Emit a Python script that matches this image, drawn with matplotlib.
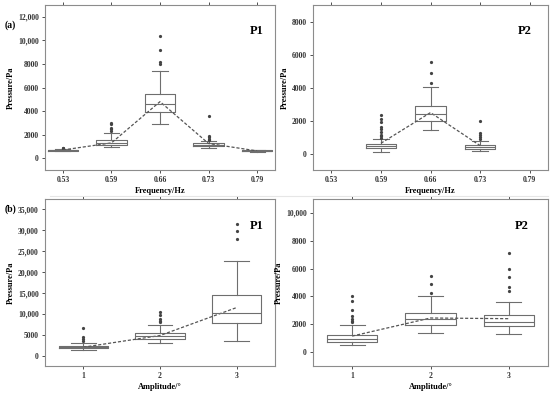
import matplotlib.pyplot as plt
from matplotlib.lines import Line2D

plt.rcParams["font.family"] = ["Liberation Serif", "DejaVu Serif"]
plt.rcParams["font.weight"] = "bold"

# (a) frequency panels
freq_labels = ["0.53", "0.59", "0.66", "0.73", "0.79"]

a1_whislo = [600, 950, 2900, 850, 520]
a1_q1 = [650, 1100, 3900, 1050, 570]
a1_med = [690, 1250, 4600, 1150, 620]
a1_q3 = [720, 1550, 5450, 1300, 680]
a1_whishi = [780, 2150, 7400, 1450, 720]
a1_mean = [700, 1300, 4800, 1250, 620]
a1_fliers = [[850, 900], [2300, 2450, 2600, 2900, 3000],
             [8000, 8200, 9200, 10400], [1550, 1650, 1800, 1900, 3600], []]

a2_pos = [2, 3, 4]
a2_whislo = [120, 1400, 180]
a2_q1 = [360, 1950, 300]
a2_med = [450, 2400, 400]
a2_q3 = [600, 2850, 500]
a2_whishi = [850, 4050, 780]
a2_mean = [620, 2480, 480]
a2_fliers = [[950, 1050, 1150, 1300, 1500, 1600, 1900, 2100, 2350],
             [4250, 4900, 5550], [900, 1000, 1100, 1250, 2000]]

# (b) amplitude panels
amp_labels = ["1", "2", "3"]

b1_whislo = [1300, 2900, 3400]
b1_q1 = [1700, 3900, 7800]
b1_med = [2000, 4600, 10100]
b1_q3 = [2200, 5400, 14500]
b1_whishi = [3100, 7400, 22600]
b1_mean = [2000, 4800, 11500]
b1_fliers = [[3500, 4000, 4500, 6500], [8000, 8300, 8800, 9700, 10500],
             [28000, 29800, 31500]]

b2_whislo = [480, 1400, 1300]
b2_q1 = [750, 1950, 1850]
b2_med = [950, 2350, 2150]
b2_q3 = [1250, 2800, 2650]
b2_whishi = [1950, 4050, 3600]
b2_mean = [1150, 2450, 2400]
b2_fliers = [[2150, 2200, 2400, 2600, 3000, 3700, 4050], [4250, 4900, 5500],
             [4400, 4700, 5400, 6000, 7100]]


def make_stats(whislo, q1, med, q3, whishi, fliers):
    return [
        dict(whislo=a, q1=b, med=c, q3=d, whishi=e, fliers=f)
        for a, b, c, d, e, f in zip(whislo, q1, med, q3, whishi, fliers)
    ]


def draw_panel(ax, positions, stats, means, xticks, xticklabels, ylim, yticks,
               yticklabels, xlabel, tag, tag_x, width):
    edge = "#6e6e6e"
    ax.bxp(
        stats,
        positions=positions,
        widths=width,
        showfliers=True,
        boxprops=dict(color=edge, linewidth=0.8),
        medianprops=dict(color=edge, linewidth=0.8),
        whiskerprops=dict(color=edge, linewidth=0.8),
        capprops=dict(color=edge, linewidth=0.8),
        capwidths=width * 0.5,
        flierprops=dict(marker="o", markersize=1.3, markerfacecolor="#444444",
                        markeredgecolor="#444444", linestyle="none"),
    )
    ax.plot(positions, means, linestyle=(0, (2.5, 1.5)), color="#555555",
            linewidth=0.9)
    ax.set_xticks(xticks)
    ax.set_xticklabels(xticklabels)
    ax.set_ylim(*ylim)
    ax.set_yticks(yticks)
    ax.set_yticklabels(yticklabels)
    ax.set_xlabel(xlabel, fontsize=6, fontweight="bold", labelpad=2)
    ax.set_ylabel("Pressure/Pa", fontsize=6, fontweight="bold", labelpad=2)
    ax.tick_params(labelsize=5.5, length=2, width=0.6, colors="#333333",
                   top=True, pad=2.5)
    for s in ax.spines.values():
        s.set_color("#8c8c8c")
        s.set_linewidth(0.8)
    ax.text(tag_x, 0.84, tag, transform=ax.transAxes, ha="center",
            va="center", fontsize=9, fontweight="bold")


W, H = 550, 394
fig = plt.figure(figsize=(W / 100, H / 100), dpi=100)


def add_ax(left, top, right, bottom):
    return fig.add_axes([left / W, 1 - bottom / H, (right - left) / W,
                         (bottom - top) / H])


ax1 = add_ax(45, 5, 275, 170)
ax2 = add_ax(313, 5, 548, 170)
ax3 = add_ax(45, 199, 275, 366)
ax4 = add_ax(313, 199, 548, 366)

draw_panel(ax1, [1, 2, 3, 4, 5],
           make_stats(a1_whislo, a1_q1, a1_med, a1_q3, a1_whishi, a1_fliers),
           a1_mean, [1, 2, 3, 4, 5], freq_labels, (-1000, 13000),
           [0, 2000, 4000, 6000, 8000, 10000, 12000],
           ["0", "2000", "4000", "6000", "8000", "10,000", "12,000"],
           "Frequency/Hz", "P1", 0.92, 0.62)
ax1.set_xlim(0.63, 5.37)

draw_panel(ax2, a2_pos,
           make_stats(a2_whislo, a2_q1, a2_med, a2_q3, a2_whishi, a2_fliers),
           a2_mean, [1, 2, 3, 4, 5], freq_labels, (-1000, 9000),
           [0, 2000, 4000, 6000, 8000],
           ["0", "2000", "4000", "6000", "8000"],
           "Frequency/Hz", "P2", 0.90, 0.62)
ax2.set_xlim(0.63, 5.37)

draw_panel(ax3, [1, 2, 3],
           make_stats(b1_whislo, b1_q1, b1_med, b1_q3, b1_whishi, b1_fliers),
           b1_mean, [1, 2, 3], amp_labels, (-2500, 37500),
           [0, 5000, 10000, 15000, 20000, 25000, 30000, 35000],
           ["0", "5000", "10,000", "15,000", "20,000", "25,000", "30,000",
            "35,000"],
           "Amplitude/\u00b0", "P1", 0.92, 0.64)
ax3.set_xlim(0.5, 3.5)

draw_panel(ax4, [1, 2, 3],
           make_stats(b2_whislo, b2_q1, b2_med, b2_q3, b2_whishi, b2_fliers),
           b2_mean, [1, 2, 3], amp_labels, (-1000, 11000),
           [0, 2000, 4000, 6000, 8000, 10000],
           ["0", "2000", "4000", "6000", "8000", "10,000"],
           "Amplitude/\u00b0", "P2", 0.89, 0.64)
ax4.set_xlim(0.5, 3.5)

fig.text(5 / W, 1 - 25 / H, "(a)", fontsize=7, fontweight="bold",
         va="center")
fig.text(5 / W, 1 - 209 / H, "(b)", fontsize=7, fontweight="bold",
         va="center")

# faint separator line under the top row
fig.add_artist(Line2D([50 / W, 548 / W], [1 - 196 / H, 1 - 196 / H],
                      color="#e6e6e6", linewidth=0.8))

fig.savefig("out.png", dpi=100)
